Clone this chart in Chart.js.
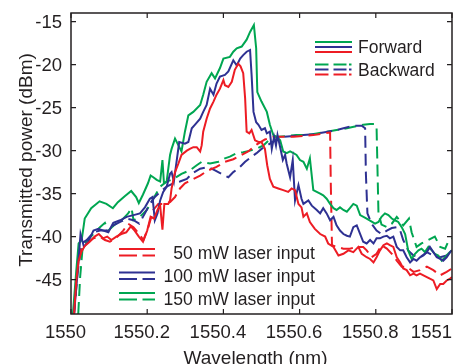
<!DOCTYPE html>
<html><head><meta charset="utf-8">
<script src="https://cdn.jsdelivr.net/npm/chart.js@4.4.1/dist/chart.umd.min.js"></script>
<style>html,body{margin:0;padding:0;background:#fff;overflow:hidden}canvas{display:block}</style>
</head><body>
<canvas id="c" width="453" height="364"></canvas>
<script>
// ---- axis ticks ----
const xTickValues = [1550, 1550.2, 1550.4, 1550.6, 1550.8, 1551];
const xTickLabels = ["1550", "1550.2", "1550.4", "1550.6", "1550.8", "1551"];
const yTickValues = [-15, -20, -25, -30, -35, -40, -45];
const yTickLabels = ["-15", "-20", "-25", "-30", "-35", "-40", "-45"];
const xTitle = "Wavelength (nm)";
const yTitle = "Transmitted power (dBm)";
const legendDirection = ["Forward", "Backward"];
const legendPower = ["50 mW laser input", "100 mW laser input", "150 mW laser input"];

// ---- 50 mW, forward ----
const fwd50Wl = [1550.008,1550.014,1550.020,1550.027,1550.036,1550.049,1550.062,1550.073,1550.084,1550.095,
1550.106,1550.119,1550.132,1550.145,1550.157,1550.167,1550.178,1550.189,1550.200,1550.209,
1550.218,1550.227,1550.234,1550.240,1550.245,1550.255,1550.260,1550.264,1550.273,1550.282,
1550.290,1550.304,1550.312,1550.321,1550.330,1550.339,1550.343,1550.347,1550.356,1550.365,
1550.374,1550.382,1550.391,1550.400,1550.404,1550.413,1550.422,1550.430,1550.439,1550.445,
1550.452,1550.457,1550.461,1550.468,1550.474,1550.483,1550.492,1550.500,1550.509,1550.515,
1550.522,1550.531,1550.544,1550.557,1550.570,1550.579,1550.588,1550.597,1550.605,1550.610,
1550.619,1550.627,1550.640,1550.654,1550.667,1550.675,1550.689,1550.702,1550.715,1550.728,
1550.741,1550.754,1550.763,1550.776,1550.785,1550.794,1550.802,1550.811,1550.820,1550.829,
1550.837,1550.846,1550.855,1550.864,1550.872,1550.881,1550.890,1550.899,1550.907,1550.916,
1550.925,1550.934,1550.942,1550.951,1550.960,1550.969,1550.977,1550.986,1550.995,1551.000];
const fwd50Db = [-49.0,-45.1,-42.8,-41.8,-41.1,-40.6,-40.0,-39.7,-40.2,-40.0,
-40.4,-40.0,-39.7,-39.5,-38.8,-39.3,-40.0,-40.6,-39.3,-37.7,
-37.9,-36.9,-36.4,-39.2,-36.2,-36.2,-35.8,-34.4,-32.5,-31.5,
-30.5,-30.0,-29.8,-29.6,-29.6,-30.1,-29.4,-27.8,-26.3,-25.1,
-24.3,-23.5,-22.8,-21.8,-22.4,-22.6,-22.0,-20.6,-19.9,-20.2,
-21.0,-23.9,-27.8,-28.0,-27.6,-28.8,-29.0,-29.0,-29.8,-31.7,
-33.3,-34.2,-34.4,-34.6,-34.8,-34.4,-34.6,-36.2,-36.6,-37.7,
-37.3,-38.3,-39.1,-39.7,-40.0,-40.8,-41.2,-42.2,-42.0,-41.6,
-41.8,-41.2,-42.0,-42.4,-42.6,-43.0,-42.4,-41.6,-41.0,-40.8,
-41.0,-41.2,-42.4,-43.0,-43.7,-43.9,-44.5,-44.3,-44.5,-44.3,
-44.5,-44.7,-44.9,-45.1,-46.1,-45.5,-45.5,-45.1,-44.9,-44.7];

// ---- 100 mW, forward ----
const fwd100Wl = [1550.008,1550.017,1550.025,1550.034,1550.045,1550.059,1550.072,1550.085,1550.098,1550.111,
1550.129,1550.146,1550.164,1550.181,1550.194,1550.207,1550.214,1550.220,1550.227,1550.234,
1550.242,1550.251,1550.260,1550.264,1550.270,1550.277,1550.284,1550.299,1550.308,1550.317,
1550.325,1550.339,1550.347,1550.356,1550.365,1550.374,1550.382,1550.391,1550.404,1550.413,
1550.426,1550.435,1550.444,1550.452,1550.461,1550.470,1550.474,1550.479,1550.486,1550.492,
1550.500,1550.509,1550.514,1550.522,1550.527,1550.533,1550.538,1550.542,1550.549,1550.556,
1550.562,1550.566,1550.575,1550.582,1550.588,1550.597,1550.605,1550.610,1550.623,1550.632,
1550.645,1550.654,1550.662,1550.671,1550.680,1550.689,1550.697,1550.706,1550.715,1550.724,
1550.732,1550.741,1550.750,1550.759,1550.767,1550.776,1550.785,1550.794,1550.802,1550.811,
1550.820,1550.829,1550.837,1550.846,1550.855,1550.864,1550.872,1550.881,1550.890,1550.899,
1550.907,1550.916,1550.925,1550.934,1550.942,1550.951,1550.960,1550.969,1550.977,1550.986,
1550.995,1551.000];
const fwd100Db = [-49.0,-44.3,-39.7,-41.2,-40.6,-39.3,-39.1,-39.3,-39.5,-38.4,
-38.1,-37.7,-37.5,-37.3,-36.6,-35.6,-35.4,-38.1,-37.3,-35.8,
-34.8,-34.2,-32.7,-32.5,-33.6,-31.3,-29.0,-29.2,-29.0,-27.4,
-27.0,-26.3,-25.5,-24.7,-22.8,-23.5,-22.2,-21.4,-21.2,-20.8,
-19.5,-20.1,-19.3,-18.9,-18.5,-18.3,-21.2,-25.5,-26.7,-27.0,
-27.6,-27.4,-28.0,-27.8,-29.8,-28.4,-29.4,-28.2,-29.6,-31.1,
-30.5,-31.5,-33.1,-31.1,-35.8,-34.0,-35.6,-36.2,-35.8,-36.4,
-36.9,-37.3,-36.7,-37.3,-38.1,-37.7,-38.7,-39.3,-39.7,-39.9,
-40.0,-38.9,-38.7,-39.7,-40.6,-40.8,-40.4,-40.8,-40.2,-40.2,
-40.0,-39.9,-40.2,-40.0,-41.2,-41.6,-41.6,-42.4,-43.0,-42.6,
-42.8,-42.4,-42.2,-41.8,-41.2,-41.8,-42.4,-42.6,-42.8,-42.4,
-41.8,-41.6];

// ---- 150 mW, forward ----
const fwd150Wl = [1550.005,1550.014,1550.020,1550.028,1550.036,1550.053,1550.075,1550.093,1550.110,1550.123,
1550.141,1550.158,1550.171,1550.178,1550.189,1550.202,1550.209,1550.216,1550.225,1550.234,
1550.240,1550.244,1550.251,1550.260,1550.264,1550.273,1550.290,1550.299,1550.308,1550.321,
1550.339,1550.347,1550.356,1550.369,1550.378,1550.391,1550.400,1550.417,1550.426,1550.435,
1550.448,1550.461,1550.470,1550.480,1550.486,1550.489,1550.500,1550.514,1550.522,1550.531,
1550.540,1550.549,1550.557,1550.566,1550.575,1550.584,1550.592,1550.601,1550.610,1550.619,
1550.627,1550.636,1550.645,1550.654,1550.662,1550.671,1550.680,1550.689,1550.697,1550.706,
1550.715,1550.724,1550.732,1550.741,1550.750,1550.759,1550.776,1550.798,1550.807,1550.815,
1550.824,1550.833,1550.842,1550.850,1550.859,1550.868,1550.877,1550.885,1550.894,1550.903,
1550.912,1550.920,1550.929,1550.938,1550.947,1550.955,1550.964,1550.973,1550.982,1550.990,
1550.999];
const fwd150Db = [-49.0,-43.9,-40.8,-40.4,-37.9,-36.7,-35.9,-36.2,-36.7,-36.0,
-35.3,-34.7,-35.4,-36.1,-35.1,-33.8,-32.9,-33.1,-33.4,-33.6,
-31.1,-33.8,-33.6,-30.5,-29.8,-28.6,-30.1,-27.8,-25.9,-25.5,
-24.7,-23.5,-22.0,-21.0,-21.6,-20.4,-19.3,-19.1,-18.5,-18.1,
-17.9,-17.1,-16.2,-15.4,-18.1,-23.2,-24.3,-25.5,-27.0,-28.2,
-28.4,-28.8,-30.1,-30.3,-30.1,-30.3,-30.5,-31.1,-31.3,-32.1,
-30.9,-34.6,-34.8,-35.0,-35.2,-35.6,-36.2,-36.7,-36.9,-36.6,
-36.9,-37.1,-36.7,-36.2,-36.4,-37.5,-37.9,-38.5,-38.3,-37.7,
-37.3,-37.5,-37.9,-38.1,-38.3,-38.9,-39.7,-41.6,-42.6,-42.0,
-41.6,-41.4,-41.8,-41.2,-41.6,-42.0,-42.2,-42.8,-42.4,-42.0,
-41.6];

// ---- 50 mW, backward ----
const bwd50Wl = [1550.008,1550.017,1550.027,1550.041,1550.059,1550.076,1550.089,1550.102,1550.120,1550.137,
1550.150,1550.164,1550.179,1550.190,1550.203,1550.216,1550.229,1550.242,1550.260,1550.273,
1550.286,1550.299,1550.317,1550.339,1550.360,1550.382,1550.404,1550.426,1550.448,1550.465,
1550.487,1550.509,1550.531,1550.557,1550.584,1550.610,1550.636,1550.662,1550.680,1550.682,
1550.685,1550.697,1550.715,1550.732,1550.750,1550.767,1550.776,1550.789,1550.802,1550.815,
1550.829,1550.842,1550.855,1550.868,1550.881,1550.899,1550.916,1550.934,1550.951,1550.969,
1550.986,1551.000];
const bwd50Db = [-49.0,-43.5,-41.4,-40.8,-40.2,-40.0,-40.4,-40.6,-40.1,-39.3,
-38.5,-38.9,-39.7,-40.4,-38.9,-36.9,-36.2,-36.2,-36.0,-35.4,
-34.4,-33.8,-33.4,-32.9,-32.3,-31.9,-31.3,-31.0,-30.5,-30.1,
-29.3,-28.7,-28.4,-28.4,-28.4,-28.3,-28.2,-28.0,-27.9,-34.2,
-41.0,-41.2,-41.4,-41.4,-41.2,-41.2,-41.6,-42.4,-42.0,-41.0,
-41.4,-42.0,-42.8,-43.5,-43.5,-44.1,-43.9,-43.5,-43.9,-44.5,
-44.1,-43.7];

// ---- 100 mW, backward ----
const bwd100Wl = [1550.008,1550.017,1550.028,1550.041,1550.059,1550.076,1550.094,1550.111,1550.129,1550.146,
1550.164,1550.179,1550.194,1550.207,1550.220,1550.234,1550.251,1550.269,1550.286,1550.304,
1550.317,1550.339,1550.360,1550.378,1550.395,1550.413,1550.426,1550.439,1550.457,1550.474,
1550.487,1550.500,1550.522,1550.540,1550.557,1550.584,1550.610,1550.636,1550.662,1550.689,
1550.715,1550.732,1550.750,1550.763,1550.772,1550.774,1550.778,1550.789,1550.802,1550.815,
1550.829,1550.842,1550.855,1550.864,1550.872,1550.885,1550.899,1550.916,1550.934,1550.951,
1550.969,1550.986,1551.000];
const bwd100Db = [-49.0,-44.3,-40.8,-40.4,-39.5,-39.3,-39.3,-38.7,-38.3,-37.9,
-38.1,-38.5,-37.3,-36.2,-35.4,-34.8,-34.2,-33.8,-33.6,-33.3,
-32.7,-32.1,-31.9,-32.3,-32.7,-33.1,-32.5,-32.1,-31.3,-30.7,
-30.3,-29.8,-29.2,-28.7,-28.4,-28.3,-28.2,-28.1,-27.9,-27.7,
-27.4,-27.2,-27.1,-27.1,-27.4,-32.7,-37.3,-38.5,-39.3,-39.7,
-39.3,-39.0,-38.9,-39.3,-40.4,-41.6,-42.2,-42.4,-41.8,-42.2,
-42.4,-42.2,-41.8];

// ---- 150 mW, backward ----
const bwd150Wl = [1550.019,1550.024,1550.031,1550.043,1550.059,1550.076,1550.089,1550.098,1550.115,1550.133,
1550.150,1550.159,1550.164,1550.181,1550.199,1550.216,1550.234,1550.251,1550.269,1550.290,
1550.312,1550.330,1550.343,1550.365,1550.387,1550.404,1550.417,1550.435,1550.452,1550.470,
1550.487,1550.505,1550.522,1550.544,1550.566,1550.592,1550.619,1550.645,1550.671,1550.697,
1550.724,1550.745,1550.767,1550.785,1550.798,1550.802,1550.807,1550.815,1550.829,1550.842,
1550.855,1550.872,1550.887,1550.894,1550.907,1550.920,1550.938,1550.955,1550.969,1550.982,
1550.990,1551.000];
const bwd150Db = [-49.0,-44.7,-41.0,-40.4,-39.7,-38.9,-38.4,-39.3,-38.6,-38.1,
-37.3,-36.7,-38.1,-37.7,-36.9,-35.6,-34.2,-33.6,-33.3,-32.7,
-32.3,-31.7,-31.3,-31.5,-31.3,-30.9,-30.7,-30.3,-30.2,-30.0,
-29.8,-29.4,-28.7,-28.4,-28.3,-28.2,-28.2,-28.0,-27.8,-27.6,
-27.4,-27.2,-27.0,-26.9,-26.9,-27.2,-37.3,-38.6,-38.9,-38.5,
-37.7,-38.7,-37.9,-39.5,-41.2,-40.8,-40.4,-40.0,-41.2,-41.4,
-40.6,-40.2];

// ---- styles ----
const RED = '#ed1c24', BLUE = '#2e3192', GREEN = '#00a651';
const TEXT = '#231f20', AXIS = '#231f20';
const FONT = '"Liberation Sans", Arial, Helvetica, sans-serif';
const DASH = [12, 6];

function pts(xs, ys) { return xs.map((x, i) => ({ x: x, y: ys[i] })); }
function ds(label, xs, ys, color, dashed) {
  return { label, data: pts(xs, ys), borderColor: color, backgroundColor: color,
    borderWidth: 2, pointRadius: 0, tension: 0, fill: false, clip: 0,
    borderDash: dashed ? DASH : [] };
}

const decor = {
  id: 'decor',
  afterDatasetsDraw(chart) {
    const ctx = chart.ctx, a = chart.chartArea, x = chart.scales.x, y = chart.scales.y;
    ctx.save();
    // frame
    ctx.strokeStyle = AXIS; ctx.lineWidth = 1.5; ctx.setLineDash([]);
    ctx.strokeRect(a.left, a.top, a.right - a.left, a.bottom - a.top);
    ctx.lineWidth = 1.2;
    ctx.beginPath();
    xTickValues.forEach(v => {
      const px = x.getPixelForValue(v);
      ctx.moveTo(px, a.bottom); ctx.lineTo(px, a.bottom - 5);
      ctx.moveTo(px, a.top); ctx.lineTo(px, a.top + 5);
    });
    yTickValues.forEach(v => {
      const py = y.getPixelForValue(v);
      ctx.moveTo(a.left, py); ctx.lineTo(a.left + 5, py);
      ctx.moveTo(a.right, py); ctx.lineTo(a.right - 5, py);
    });
    ctx.stroke();
    // tick labels
    ctx.fillStyle = TEXT;
    ctx.font = '18.5px ' + FONT;
    ctx.textBaseline = 'alphabetic';
    ctx.textAlign = 'center';
    xTickValues.forEach((v, i) => {
      const t = xTickLabels[i];
      const w = ctx.measureText(t).width;
      let cx = x.getPixelForValue(v) - 5.5;
      cx = Math.min(cx, chart.width - 1 - w / 2);
      ctx.fillText(t, cx, a.bottom + 23.5);
    });
    ctx.textAlign = 'right';
    yTickValues.forEach((v, i) => {
      ctx.fillText(yTickLabels[i], 62, y.getPixelForValue(v) + 6.6);
    });
    // axis titles
    ctx.font = '19px ' + FONT;
    ctx.textAlign = 'center';
    ctx.fillText(xTitle, 255.5, 363.5);
    ctx.save();
    ctx.translate(31.5, 160);
    ctx.rotate(-Math.PI / 2);
    ctx.font = '19px ' + FONT;
    ctx.fillText(yTitle, 0, 0);
    ctx.restore();

    // legend: direction (top right)
    ctx.lineWidth = 2;
    const seg = (x0, x1, yy, c) => { ctx.strokeStyle = c; ctx.beginPath(); ctx.moveTo(x0, yy); ctx.lineTo(x1, yy); ctx.stroke(); };
    [[GREEN, 42], [BLUE, 47], [RED, 52]].forEach(([c, yy]) => seg(315, 352, yy, c));
    [[GREEN, 64.5], [BLUE, 69.5], [RED, 74.5]].forEach(([c, yy]) => {
      seg(315, 328.5, yy, c); seg(333.5, 346.5, yy, c); seg(349, 351.5, yy, c);
    });
    ctx.fillStyle = TEXT;
    ctx.font = '17.5px ' + FONT;
    ctx.textAlign = 'left';
    ctx.fillText(legendDirection[0], 358, 47 + 6.3);
    ctx.fillText(legendDirection[1], 358, 70 + 6.3);

    // legend: power (bottom)
    const rows = [[RED, 249, 255.5, 252.5], [BLUE, 272.5, 279, 276], [GREEN, 293, 299.5, 298.5]];
    ctx.font = '17.6px ' + FONT;
    ctx.textAlign = 'right';
    rows.forEach(([c, ys, yd, yt], i) => {
      seg(119, 155, ys, c);
      seg(119, 137, yd, c); seg(142.5, 155, yd, c);
      ctx.fillStyle = TEXT;
      ctx.fillText(legendPower[i], 315, yt + 6.3);
    });
    ctx.restore();
  }
};

new Chart(document.getElementById('c'), {
  type: 'line',
  data: {
    datasets: [
      ds('50 mW forward', fwd50Wl, fwd50Db, RED, false),
      ds('100 mW forward', fwd100Wl, fwd100Db, BLUE, false),
      ds('150 mW forward', fwd150Wl, fwd150Db, GREEN, false),
      ds('50 mW backward', bwd50Wl, bwd50Db, RED, true),
      ds('100 mW backward', bwd100Wl, bwd100Db, BLUE, true),
      ds('150 mW backward', bwd150Wl, bwd150Db, GREEN, true)
    ]
  },
  options: {
    responsive: false,
    animation: false,
    devicePixelRatio: 1,
    layout: { padding: { left: 71, right: 1, top: 13, bottom: 50 } },
    plugins: { legend: { display: false }, tooltip: { enabled: false }, title: { display: false } },
    scales: {
      x: { type: 'linear', min: 1550, max: 1551, display: false },
      y: { type: 'linear', min: -49, max: -14, display: false }
    }
  },
  plugins: [decor]
});
</script>
</body></html>
